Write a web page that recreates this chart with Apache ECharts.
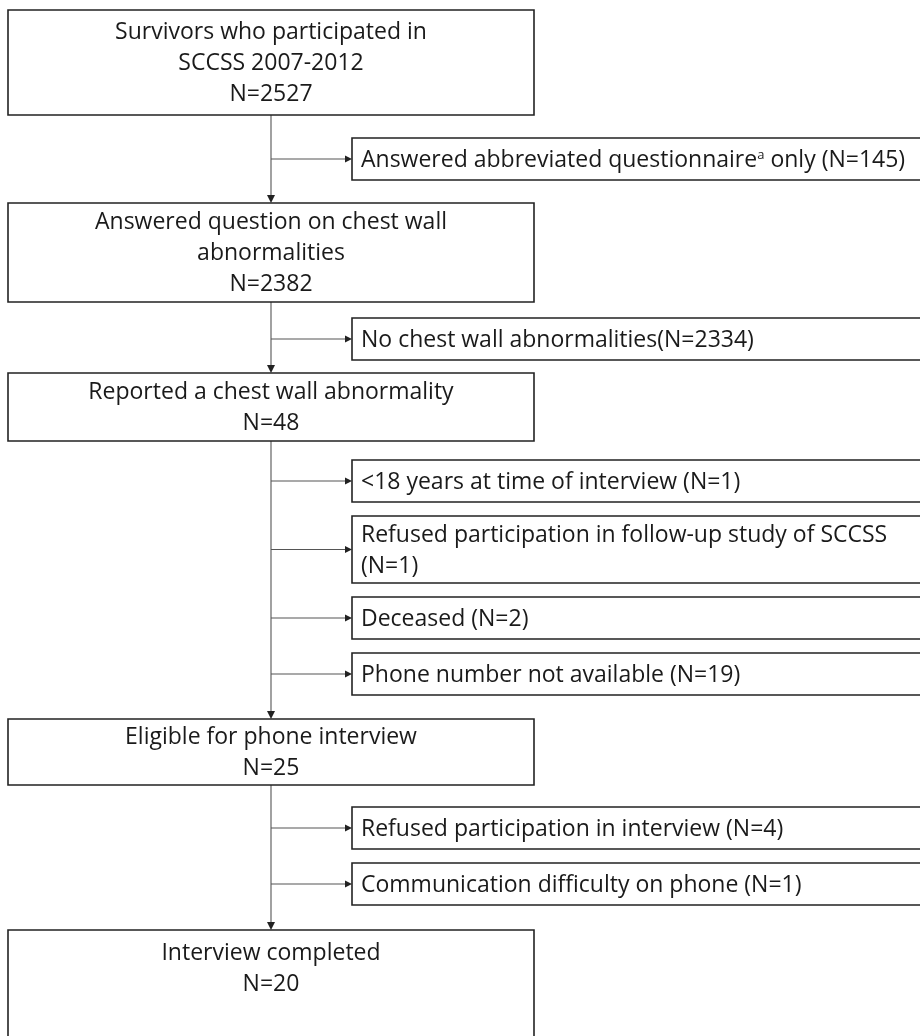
<!DOCTYPE html>
<html>
<head>
<meta charset="utf-8">
<script src="https://cdn.jsdelivr.net/npm/echarts@6/dist/echarts.min.js"></script>
<style>
html,body{margin:0;padding:0;background:#fff;}
#chart{width:920px;height:1036px;}
</style>
</head>
<body>
<div id="chart"></div>
<script>
// ---- data ----
var mainBoxes = [
  ['Survivors who participated in', 'SCCSS 2007-2012', 'N=2527'],
  ['Answered question on chest wall', 'abnormalities', 'N=2382'],
  ['Reported a chest wall abnormality', 'N=48'],
  ['Eligible for phone interview', 'N=25'],
  ['Interview completed', 'N=20']
];
// exclusions after each main box (index = main box it leaves from)
var exclusions = [
  [['Answered abbreviated questionnaire{sup|a} only (N=145)']],
  [['No chest wall abnormalities(N=2334)']],
  [['<18 years at time of interview (N=1)'],
   ['Refused participation in follow-up study of SCCSS', '(N=1)'],
   ['Deceased (N=2)'],
   ['Phone number not available (N=19)']],
  [['Refused participation in interview (N=4)'],
   ['Communication difficulty on phone (N=1)']]
];

// ---- layout (positions, not data) ----
var mainTops = [10, 203, 373, 719, 930];
var mainHeights = [105, 99, 68, 66, 120];
var sideTops = [[138], [318], [460, 516, 597, 653], [807, 863]];
var mainLeft = 8, mainRight = 534, spineX = 271;
var sideLeft = 352, sideRight = 940, sideTextX = 361;
var lineH = 31, fontSize = 23, fontFamily = '"Open Sans", "Noto Sans", sans-serif';

var g = [];
var textColor = '#1a1a1a';

function addRect(x, y, w, h) {
  g.push({type: 'rect', shape: {x: x, y: y, width: w, height: h},
    style: {fill: '#fff', stroke: '#222', lineWidth: 1.6}, z: 10});
}
function addLine(x1, y1, x2, y2) {
  g.push({type: 'line', shape: {x1: x1, y1: y1, x2: x2, y2: y2},
    style: {stroke: '#555', lineWidth: 1.1}, z: 5});
}
function arrowDown(x, y) {
  g.push({type: 'polygon', shape: {points: [[x - 4, y - 8], [x + 4, y - 8], [x, y]]},
    style: {fill: '#222'}, z: 11});
}
function arrowRight(x, y) {
  g.push({type: 'polygon', shape: {points: [[x - 7, y - 3.5], [x - 7, y + 3.5], [x, y]]},
    style: {fill: '#222'}, z: 11});
}
var rich = {sup: {fontSize: 13, fontFamily: fontFamily, fill: textColor, padding: [0, 0, 10, 0]}};

mainBoxes.forEach(function (lines, i) {
  var top = mainTops[i], h = mainHeights[i];
  addRect(mainLeft, top, mainRight - mainLeft, h);
  var n = lines.length;
  var startY = top + (i === 4 ? 39 : h / 2 + 1) - (n - 1) * lineH / 2;
  lines.forEach(function (t, k) {
    g.push({type: 'text', z: 20,
      style: {text: t, x: spineX, y: startY + k * lineH, align: 'center', verticalAlign: 'middle',
        fontSize: fontSize, fontFamily: fontFamily, fill: textColor}});
  });
  if (i < mainBoxes.length - 1) {
    var y0 = top + h, y1 = mainTops[i + 1];
    addLine(spineX, y0, spineX, y1 - 6);
    arrowDown(spineX, y1);
    exclusions[i].forEach(function (ex, j) {
      var st = sideTops[i][j];
      var sh = ex.length === 1 ? 42 : 67;
      addRect(sideLeft, st, sideRight - sideLeft, sh);
      var cy = st + sh / 2;
      addLine(spineX, cy, sideLeft - 5, cy);
      arrowRight(sideLeft, cy);
      var sy = cy + 1 - (ex.length - 1) * lineH / 2;
      ex.forEach(function (t, k) {
        g.push({type: 'text', z: 20,
          style: {text: t, rich: rich, x: sideTextX, y: sy + k * lineH, align: 'left', verticalAlign: 'middle',
            fontSize: fontSize, fontFamily: fontFamily, fill: textColor}});
      });
    });
  }
});

var chart = echarts.init(document.getElementById('chart'));
chart.setOption({backgroundColor: '#fff', animation: false, graphic: {elements: g}});
</script>
</body>
</html>
